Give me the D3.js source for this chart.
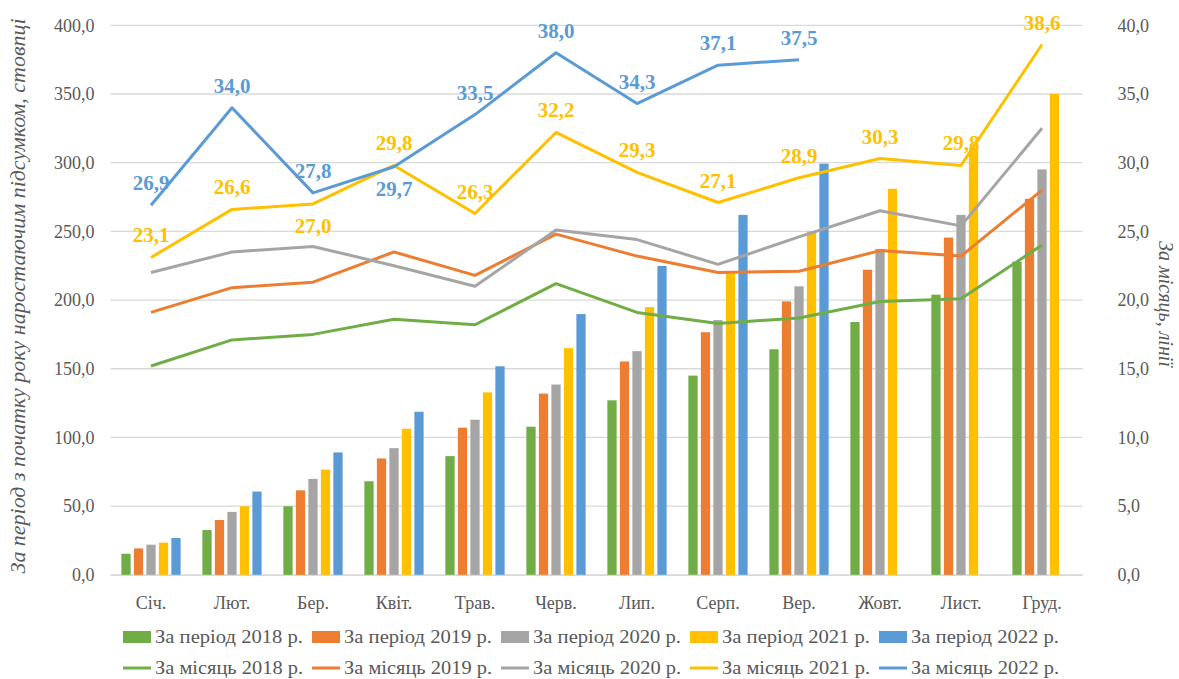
<!DOCTYPE html>
<html>
<head>
<meta charset="utf-8">
<script src="https://cdn.jsdelivr.net/npm/d3@7"></script>
<style>
  html, body { margin: 0; padding: 0; background: #fff; }
  svg { display: block; }
  text { font-family: "Liberation Serif", "Times New Roman", serif; }
</style>
</head>
<body>
<svg id="chart" width="1179" height="679"></svg>
<script>
// ---------- DATA ----------
const months = ["Січ.", "Лют.", "Бер.", "Квіт.", "Трав.", "Черв.", "Лип.", "Серп.", "Вер.", "Жовт.", "Лист.", "Груд."];
const years = ["2018", "2019", "2020", "2021", "2022"];

// cumulative since start of year (bars, left axis)
const period2018 = [15.3, 32.6, 49.9, 68.1, 86.4, 107.8, 127.0, 145.0, 164.2, 184.0, 203.9, 228.0];
const period2019 = [19.2, 39.9, 61.5, 84.7, 107.1, 131.9, 155.3, 176.6, 199.0, 222.1, 245.5, 273.7];
const period2020 = [21.9, 45.8, 69.8, 92.2, 112.9, 138.5, 162.8, 185.4, 210.0, 237.2, 262.0, 295.1];
const period2021 = [23.4, 49.9, 76.6, 106.3, 132.8, 165.0, 194.9, 219.2, 250.1, 281.0, 310.9, 350.0];
const period2022 = [26.8, 60.6, 89.1, 118.7, 151.8, 189.8, 224.8, 262.0, 299.3];

// per month (lines, right axis)
const month2018 = [15.2, 17.1, 17.5, 18.6, 18.2, 21.2, 19.1, 18.3, 18.7, 19.9, 20.1, 24.0];
const month2019 = [19.1, 20.9, 21.3, 23.5, 21.8, 24.8, 23.2, 22.0, 22.1, 23.6, 23.2, 28.0];
const month2020 = [22.0, 23.5, 23.9, 22.5, 21.0, 25.1, 24.4, 22.6, 24.6, 26.5, 25.4, 32.5];
const month2021 = [23.1, 26.6, 27.0, 29.8, 26.3, 32.2, 29.3, 27.1, 28.9, 30.3, 29.8, 38.6];
const month2022 = [26.9, 34.0, 27.8, 29.7, 33.5, 38.0, 34.3, 37.1, 37.5];

const leftTicks = [0, 50, 100, 150, 200, 250, 300, 350, 400];
const rightTicks = [0, 5, 10, 15, 20, 25, 30, 35, 40];

// labelled series (2021, 2022) and months whose label sits below the point
const labelBelow2021 = ["Бер."];
const labelBelow2022 = ["Квіт."];

const leftTitle = "За період з початку року наростаючим підсумком, стовпці";
const rightTitle = "За місяць, лінії";

// ---------- SETUP ----------
const colors = { "2018": "#70AD47", "2019": "#ED7D31", "2020": "#A5A5A5", "2021": "#FFC000", "2022": "#5B9BD5" };
const textColor = "#595959";
const gridColor = "#D9D9D9";

const periodSeries = [period2018, period2019, period2020, period2021, period2022];
const monthSeries = [month2018, month2019, month2020, month2021, month2022];

const margin = { left: 110.5, right: 1082.5, top: 25.3, bottom: 574.8 };

const svg = d3.select("#chart");

const x0 = d3.scaleBand().domain(months).range([margin.left, margin.right]).padding(0);
const x1 = d3.scaleBand().domain(years).range([0, x0.bandwidth()]).paddingInner(0.26).paddingOuter(0.87);
const yL = d3.scaleLinear().domain([0, 400]).range([margin.bottom, margin.top]);
const yR = d3.scaleLinear().domain([0, 40]).range([margin.bottom, margin.top]);

const fmt = v => d3.format(".1f")(v).replace(".", ",");

// gridlines
svg.append("g")
  .selectAll("line")
  .data(leftTicks)
  .join("line")
  .attr("x1", margin.left)
  .attr("x2", margin.right)
  .attr("y1", d => yL(d))
  .attr("y2", d => yL(d))
  .attr("stroke", gridColor)
  .attr("stroke-width", 1.3);

// left axis
const axL = svg.append("g")
  .attr("transform", `translate(${margin.left},0)`)
  .call(d3.axisLeft(yL).tickValues(leftTicks).tickFormat(fmt).tickSize(0).tickPadding(16));
axL.select(".domain").remove();
axL.selectAll("text").attr("fill", textColor).style("font-size", "18px").style("font-family", "Liberation Serif");

// right axis
const axR = svg.append("g")
  .attr("transform", `translate(${margin.right},0)`)
  .call(d3.axisRight(yR).tickValues(rightTicks).tickFormat(fmt).tickSize(0).tickPadding(35));
axR.select(".domain").remove();
axR.selectAll("text").attr("fill", textColor).style("font-size", "18px").style("font-family", "Liberation Serif");

// bottom axis
const axB = svg.append("g")
  .attr("transform", `translate(0,${margin.bottom})`)
  .call(d3.axisBottom(x0).tickSize(0).tickPadding(21));
axB.select(".domain").attr("stroke", gridColor).attr("stroke-width", 1.3);
axB.selectAll("text").attr("fill", textColor).style("font-size", "18px").style("font-family", "Liberation Serif");

// bars
years.forEach((yr, i) => {
  svg.append("g")
    .selectAll("rect")
    .data(periodSeries[i].map((v, j) => ({ m: months[j], v })))
    .join("rect")
    .attr("x", d => x0(d.m) + x1(yr))
    .attr("width", x1.bandwidth())
    .attr("y", d => yL(d.v))
    .attr("height", d => yL(0) - yL(d.v))
    .attr("fill", colors[yr]);
});

// lines
const line = d3.line()
  .x(d => x0(d.m) + x0.bandwidth() / 2)
  .y(d => yR(d.v));

years.forEach((yr, i) => {
  const data = monthSeries[i].map((v, j) => ({ m: months[j], v }));
  svg.append("path")
    .datum(data)
    .attr("d", line)
    .attr("fill", "none")
    .attr("stroke", colors[yr])
    .attr("stroke-width", 3)
    .attr("stroke-linejoin", "round");
});

// data labels for 2021 and 2022
[["2021", month2021, labelBelow2021], ["2022", month2022, labelBelow2022]].forEach(([yr, vals, below]) => {
  svg.append("g")
    .selectAll("text")
    .data(vals.map((v, j) => ({ m: months[j], v })))
    .join("text")
    .attr("x", d => x0(d.m) + x0.bandwidth() / 2)
    .attr("y", d => yR(d.v) + (below.includes(d.m) ? 29 : -15))
    .attr("text-anchor", "middle")
    .attr("fill", colors[yr])
    .style("font-size", "21px")
    .style("font-weight", "bold")
    .text(d => fmt(d.v));
});

// axis titles
svg.append("text")
  .attr("transform", `translate(25,296) rotate(-90)`)
  .attr("text-anchor", "middle")
  .attr("fill", textColor)
  .style("font-size", "20.5px")
  .style("font-style", "italic")
  .attr("textLength", 555)
  .attr("lengthAdjust", "spacingAndGlyphs")
  .text(leftTitle);

svg.append("text")
  .attr("transform", `translate(1159,${(margin.top + margin.bottom) / 2 + 4}) rotate(90)`)
  .attr("text-anchor", "middle")
  .attr("fill", textColor)
  .style("font-size", "20px")
  .style("font-style", "italic")
  .text(rightTitle);

// legend
const legendItemW = 189;
const legendX0 = 123;
const legend1 = svg.append("g");
years.forEach((yr, i) => {
  const g = legend1.append("g").attr("transform", `translate(${legendX0 + i * legendItemW},637)`);
  g.append("rect").attr("x", 0).attr("y", -6).attr("width", 28).attr("height", 12).attr("fill", colors[yr]);
  g.append("text").attr("x", 32).attr("y", 6).attr("fill", textColor).style("font-size", "19px")
    .attr("textLength", 148).attr("lengthAdjust", "spacingAndGlyphs")
    .text(`За період ${yr} р.`);
});
const legend2 = svg.append("g");
years.forEach((yr, i) => {
  const g = legend2.append("g").attr("transform", `translate(${legendX0 + i * legendItemW},668)`);
  g.append("line").attr("x1", 0).attr("x2", 28).attr("y1", 0).attr("y2", 0).attr("stroke", colors[yr]).attr("stroke-width", 3);
  g.append("text").attr("x", 32).attr("y", 6).attr("fill", textColor).style("font-size", "19px")
    .attr("textLength", 148).attr("lengthAdjust", "spacingAndGlyphs")
    .text(`За місяць ${yr} р.`);
});
</script>
</body>
</html>
